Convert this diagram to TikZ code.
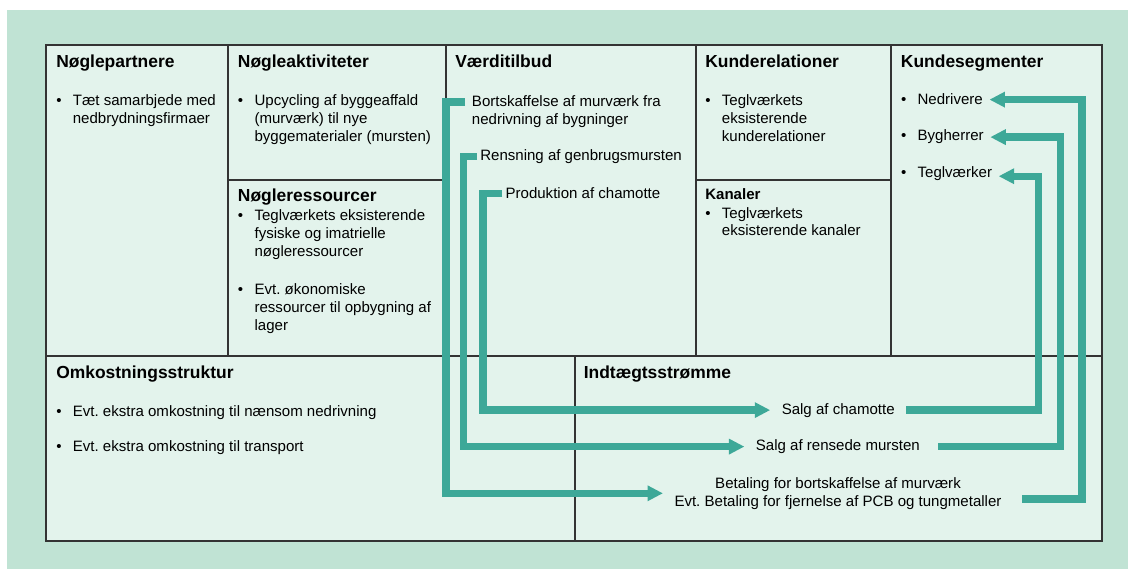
\documentclass[tikz,border=0pt]{standalone}
\usepackage{fontspec}
\setmainfont{Liberation Sans}
\usepackage{tikz}
\usetikzlibrary{arrows.meta}
\frenchspacing

\definecolor{bgmint}{HTML}{C0E3D4}
\definecolor{cellmint}{HTML}{E3F3EC}
\definecolor{flowteal}{HTML}{3DA898}
\definecolor{gridgray}{HTML}{333333}

\newcommand{\blt}{\makebox[11.8pt][l]{\textbullet}}
\newcommand{\indt}{\hspace*{11.8pt}}
\newcommand{\bodyfont}{\fontsize{10.7pt}{12.7pt}\selectfont}
\newcommand{\headfont}{\fontsize{12.4pt}{14pt}\selectfont\bfseries}

\begin{document}
\begin{tikzpicture}[x=0.025cm, y=-0.025cm,
		cellhead/.style={anchor=base west, inner sep=0pt, font=\headfont},
		txt/.style={anchor=north west, inner sep=0pt, align=left, font=\bodyfont},
		one/.style={anchor=base west, inner sep=0pt, font=\bodyfont},
		inc/.style={inner xsep=8pt, inner ysep=0pt, align=center, font=\bodyfont},
		seg/.style={anchor=base west, inner xsep=4.5pt, inner ysep=0pt, font=\bodyfont},
		gridline/.style={draw=gridgray, line width=1.2pt},
		flow/.style={draw=flowteal, line width=5.2pt},
		>={Triangle[length=11pt,width=10.5pt]}]
	\useasboundingbox (0,0) rectangle (1128,569);
	\fill[bgmint] (7,10) rectangle (1128,569);
	\draw[gridline, fill=cellmint] (46,45) rectangle (1102,541);
	\foreach \x in {228,446,696,891}
		\draw[gridline] (\x,45) -- (\x,356);
	\draw[gridline] (228,180) -- (446,180);
	\draw[gridline] (696,180) -- (891,180);
	\draw[gridline] (46,356) -- (1102,356);
	\draw[gridline] (575,356) -- (575,541);

	\begin{scope}
		\node[cellhead] (kp) at (56,67.3) {Nøglepartnere};
		\node[cellhead] (ka) at (237.7,67.3) {Nøgleaktiviteter};
		\node[cellhead] (kr) at (237.7,201.7) {Nøgleressourcer};
		\node[cellhead] (vt) at (455,67.3) {Værditilbud};
		\node[cellhead] (kd) at (705,67.3) {Kunderelationer};
		\node[one, font=\bodyfont\bfseries] (kn) at (705,199.3) {Kanaler};
		\node[cellhead] (ks) at (900.7,67.3) {Kundesegmenter};
		\node[cellhead] (os) at (56,378.3) {Omkostningsstruktur};
		\node[cellhead] (is) at (583.5,378.3) {Indtægtsstrømme};
	\end{scope}

	\begin{scope}
		\node[txt] (kp1) at (56,94.2) {\blt Tæt samarbjede med\\\indt nedbrydningsfirmaer};
		\node[txt] (ka1) at (237.7,94.2) {\blt Upcycling af byggeaffald\\\indt (murværk) til nye\\\indt byggematerialer (mursten)};
		\node[txt] (kr1) at (237.7,209.2) {\blt Teglværkets eksisterende\\\indt fysiske og imatrielle\\\indt nøgleressourcer\\[14.5pt]\blt Evt. økonomiske\\\indt ressourcer til opbygning af\\\indt lager};
		\node[txt] (kd1) at (705,94.2) {\blt Teglværkets\\\indt eksisterende\\\indt kunderelationer};
		\node[txt] (kn1) at (705,206.9) {\blt Teglværkets\\\indt eksisterende kanaler};
		\node[txt] (os1) at (56,404.9) {\blt Evt. ekstra omkostning til nænsom nedrivning\\[12.7pt]\blt Evt. ekstra omkostning til transport};
	\end{scope}

	\node[txt] (bort) at (471.7,95.2) {Bortskaffelse af murværk fra\\nedrivning af bygninger};
	\node[one] (rens) at (480,160.7) {Rensning af genbrugsmursten};
	\node[one] (prod) at (505.3,199) {Produktion af chamotte};

	\node[seg] (ned) at (894.4,105) {\blt Nedrivere};
	\node[seg] (byg) at (894.4,141) {\blt Bygherrer};
	\node[seg] (tegl) at (894.4,177.3) {\blt Teglværker};

	\node[inc, anchor=base] (cham) at (838.2,414) {Salg af chamotte};
	\node[inc, anchor=base] (salg) at (837.9,450.5) {Salg af rensede mursten};
	\node[inc] (betal) at (838,493.3) {Betaling for bortskaffelse af murværk\\Evt. Betaling for fjernelse af PCB og tungmetaller};

	\coordinate (laneB) at (446,0);
	\coordinate (laneR) at (463.5,0);
	\coordinate (laneP) at (483,0);
	\coordinate (laneN) at (1082,0);
	\coordinate (laneY) at (1060.3,0);
	\coordinate (laneT) at (1038.8,0);
	\coordinate (bortOut) at ([shift={(-6.7,6.8)}]bort.north west);
	\coordinate (betalOut) at ([yshift=-4pt]betal.east);
	\coordinate (teglIn) at ([yshift=-2pt]tegl.east);

	\begin{scope}[every path/.style={flow, ->}]
		\draw (bortOut) -| (laneB |- betal.west) -- (betal.west);
		\draw ([xshift=-2pt]rens.west) -| (laneR |- salg.west) -- (salg.west);
		\draw ([xshift=-2pt]prod.west) -| (laneP |- cham.west) -- (cham.west);
		\draw (cham.east) -| (laneT |- teglIn) -- (teglIn);
		\draw[shorten <=5pt] (salg.east) -| (laneY |- byg.east) -- (byg.east);
		\draw[shorten <=6.5pt] (betalOut) -| (laneN |- ned.east) -- (ned.east);
	\end{scope}
\end{tikzpicture}
\end{document}
